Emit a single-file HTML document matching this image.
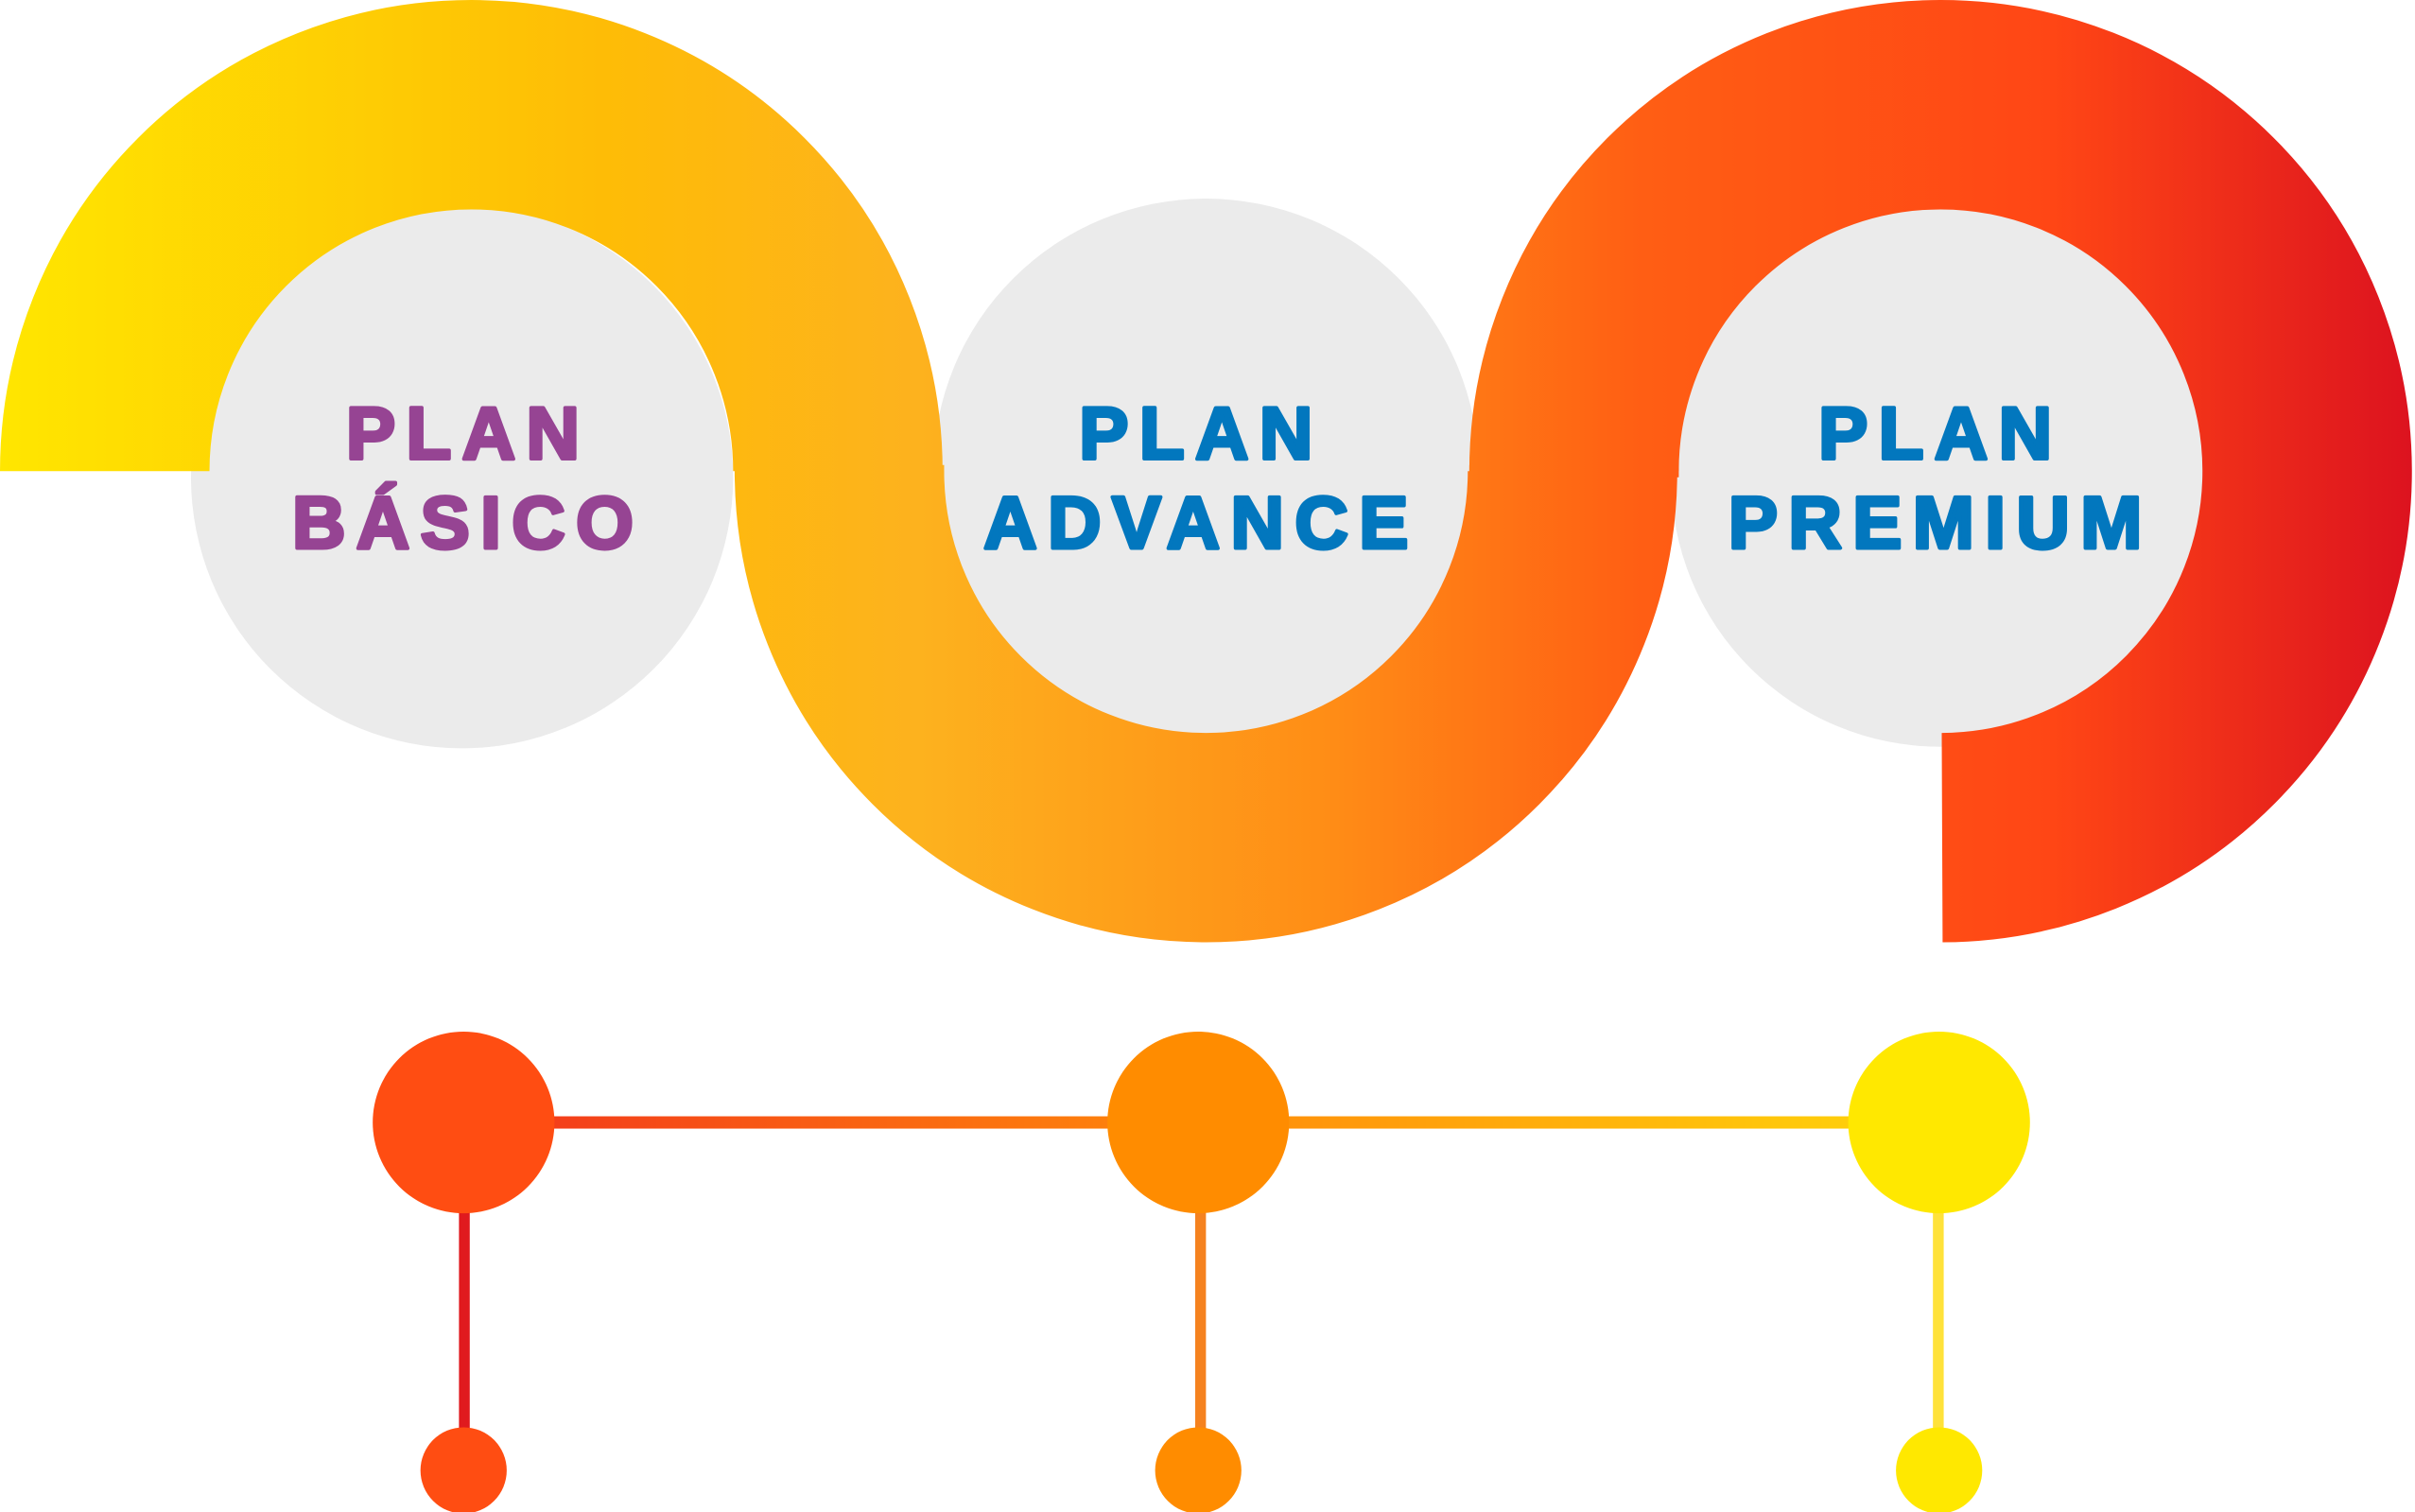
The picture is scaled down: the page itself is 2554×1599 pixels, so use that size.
<!DOCTYPE html>
<html><head><meta charset="utf-8"><style>html,body{margin:0;padding:0;background:#fff;width:2554px;height:1599px;overflow:hidden}svg{display:block}</style></head><body>
<svg width="2554" height="1599" viewBox="0 0 1568 982" preserveAspectRatio="none" xmlns="http://www.w3.org/2000/svg">
<defs>
<linearGradient id="g" gradientUnits="userSpaceOnUse" x1="0" y1="0" x2="1568" y2="0">
<stop offset="0" stop-color="#FFE600"/>
<stop offset="0.25" stop-color="#FEBC06"/>
<stop offset="0.38" stop-color="#FDB21E"/>
<stop offset="0.55" stop-color="#FF8D16"/>
<stop offset="0.68" stop-color="#FF5E14"/>
<stop offset="0.85" stop-color="#FF4615"/>
<stop offset="1" stop-color="#DC121F"/>
</linearGradient>
<linearGradient id="h" gradientUnits="userSpaceOnUse" x1="300" y1="0" x2="1260" y2="0">
<stop offset="0" stop-color="#F2341C"/>
<stop offset="0.5" stop-color="#FF8A0A"/>
<stop offset="1" stop-color="#FFD70A"/>
</linearGradient>
</defs>
<circle cx="300" cy="310" r="176" fill="#EBEBEB"/>
<circle cx="783" cy="306" r="177" fill="#EBEBEB"/>
<circle cx="1260" cy="310" r="175" fill="#EBEBEB"/>
<g fill="none" stroke="url(#g)" stroke-width="136" stroke-linecap="butt">
<path d="M68 306 A238 238 0 0 1 544 306"/>
<path d="M545 306 A238 238 0 0 0 1021 306"/>
<path d="M1022 306 A238 238 0 1 1 1261 544"/>
</g>
<rect x="477" y="302" width="136" height="8" fill="url(#g)"/>
<rect x="954" y="302" width="136" height="8" fill="url(#g)"/>
<g font-family="Liberation Sans, Arial, sans-serif" font-weight="bold" font-size="48" text-anchor="middle" letter-spacing="7" stroke-width="2.4" stroke-linejoin="round">
<text x="304" y="298" fill="#964493" stroke="#964493">PLAN</text>
<text x="304" y="356" fill="#964493" stroke="#964493">BÁSICO</text>
<text x="780" y="298" fill="#0277BE" stroke="#0277BE">PLAN</text>
<text x="780" y="356" fill="#0277BE" stroke="#0277BE">ADVANCE</text>
<text x="1260" y="298" fill="#0277BE" stroke="#0277BE">PLAN</text>
<text x="1260" y="356" fill="#0277BE" stroke="#0277BE">PREMIUM</text>
</g>
<rect x="300" y="725" width="960" height="8" fill="url(#h)"/>
<rect x="298" y="780" width="7" height="150" fill="#E01A1E"/>
<rect x="776" y="780" width="7" height="150" fill="#F5821F"/>
<rect x="1255" y="780" width="7" height="150" fill="#FFE23A"/>
<circle cx="301" cy="729" r="59" fill="#FF4D12"/>
<circle cx="778" cy="729" r="59" fill="#FF8C00"/>
<circle cx="1259" cy="729" r="59" fill="#FFE800"/>
<circle cx="301" cy="955" r="28" fill="#FF4D12"/>
<circle cx="778" cy="955" r="28" fill="#FF8C00"/>
<circle cx="1259" cy="955" r="28" fill="#FFE800"/>
</svg>
</body></html>
